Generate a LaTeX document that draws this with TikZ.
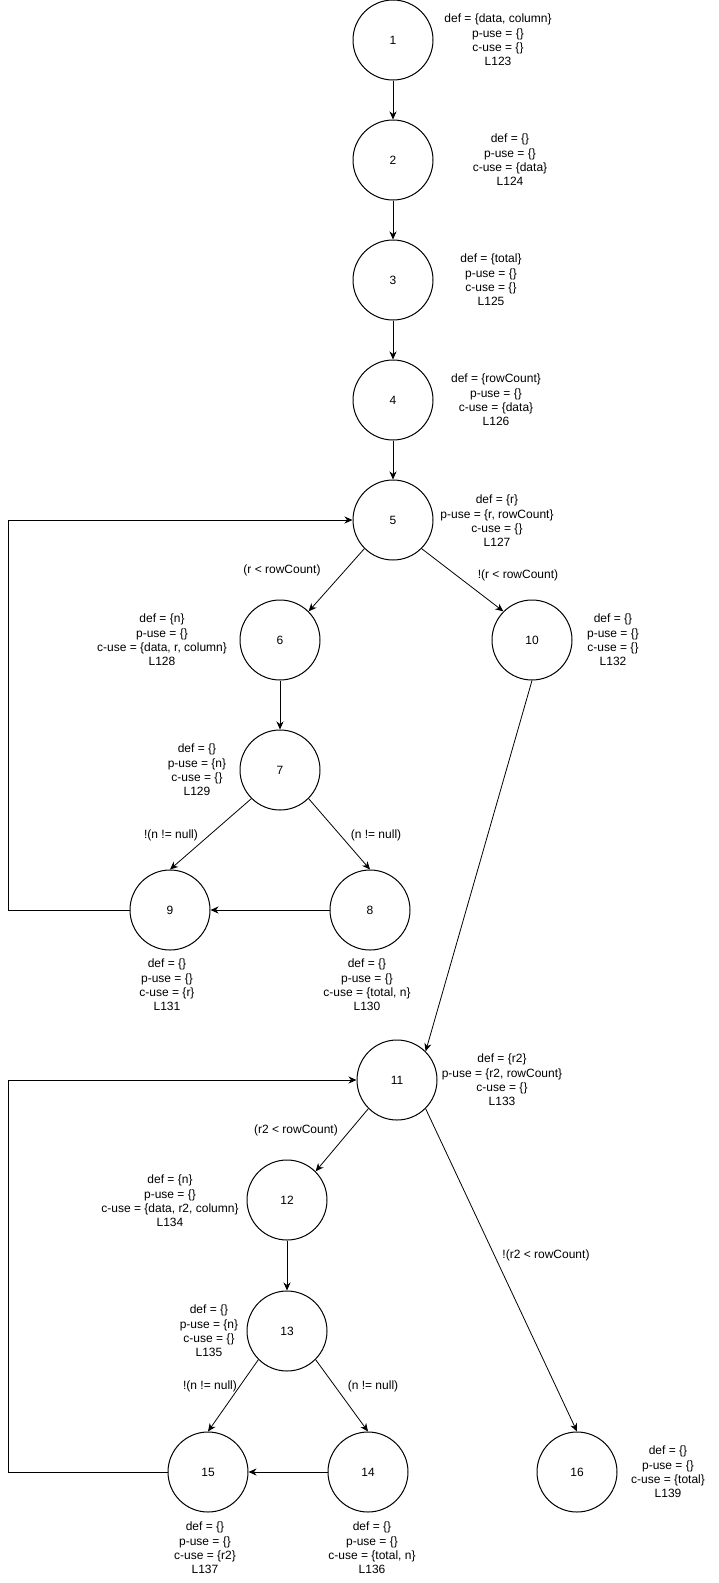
\documentclass[tikz,border=0pt]{standalone}
\usepackage{fontspec}
\setmainfont{Liberation Sans}
\usepackage{tikz}
\usetikzlibrary{arrows.meta}

\begin{document}
\begin{tikzpicture}[x=1pt, y=-1pt,
    block/.style={circle, draw, line width=1pt, minimum size=80pt, inner sep=0pt, font=\fontsize{12}{14.4}\selectfont},
    info/.style={align=center, inner sep=0pt, font=\fontsize{12}{14.4}\selectfont},
    flow/.style={-{Stealth[length=8pt, width=7pt, inset=2.5pt]}, line width=0.8pt}]
  \useasboundingbox (0,0) rectangle (718,1583);
  % First loop
  \node[block] (Node-1) at (393,40) {1};
  \node[block] (Node-2) at (393,160) {2};
  \node[block] (Node-3) at (393,280) {3};
  \node[block] (Node-4) at (393,400) {4};
  \node[block] (Node-5) at (393,520) {5};
  \node[block] (Node-6) at (280,640) {6};
  \node[block] (Node-10) at (532,640) {10};
  \node[block] (Node-7) at (280,770) {7};
  \node[block] (Node-9) at (170,910) {9};
  \node[block] (Node-8) at (370,910) {8};
  % Second loop
  \node[block] (Node-11) at (397,1080) {11};
  \node[block] (Node-12) at (287,1200) {12};
  \node[block] (Node-13) at (287,1331) {13};
  \node[block] (Node-15) at (208,1472) {15};
  \node[block] (Node-14) at (368,1472) {14};
  \node[block] (Node-16) at (577,1472) {16};
  \coordinate (Loop-1) at (8,0);  % Left return line
  % Def-use sets
  \node[info] (Info-1) at (498,40) {def = \{data, column\}\\p-use = \{\}\\c-use = \{\}\\L123};
  \node[info] (Info-2) at (510,160) {def = \{\}\\p-use = \{\}\\c-use = \{data\}\\L124};
  \node[info] (Info-3) at (491,280) {def = \{total\}\\p-use = \{\}\\c-use = \{\}\\L125};
  \node[info] (Info-4) at (496,400) {def = \{rowCount\}\\p-use = \{\}\\c-use = \{data\}\\L126};
  \node[info] (Info-5) at (497,521) {def = \{r\}\\p-use = \{r, rowCount\}\\c-use = \{\}\\L127};
  \node[info] (Info-6) at (162,640) {def = \{n\}\\p-use = \{\}\\c-use = \{data, r, column\}\\L128};
  \node[info] (Info-10) at (613,640) {def = \{\}\\p-use = \{\}\\c-use = \{\}\\L132};
  \node[info] (Info-7) at (197,770) {def = \{\}\\p-use = \{n\}\\c-use = \{\}\\L129};
  \node[info] (Info-9) at (167,985) {def = \{\}\\p-use = \{\}\\c-use = \{r\}\\L131};
  \node[info] (Info-8) at (367,985) {def = \{\}\\p-use = \{\}\\c-use = \{total, n\}\\L130};
  \node[info] (Info-11) at (502,1080) {def = \{r2\}\\p-use = \{r2, rowCount\}\\c-use = \{\}\\L133};
  \node[info] (Info-12) at (170,1201) {def = \{n\}\\p-use = \{\}\\c-use = \{data, r2, column\}\\L134};
  \node[info] (Info-13) at (209,1331) {def = \{\}\\p-use = \{n\}\\c-use = \{\}\\L135};
  \node[info] (Info-15) at (205,1548) {def = \{\}\\p-use = \{\}\\c-use = \{r2\}\\L137};
  \node[info] (Info-14) at (372,1548) {def = \{\}\\p-use = \{\}\\c-use = \{total, n\}\\L136};
  \node[info] (Info-16) at (668,1472) {def = \{\}\\p-use = \{\}\\c-use = \{total\}\\L139};
  % Branch conditions
  \node[info] (Cond-5a) at (282,570) {(r < rowCount)};
  \node[info] (Cond-5b) at (518,575) {!(r < rowCount)};
  \node[info] (Cond-7a) at (171,835) {!(n != null)};
  \node[info] (Cond-7b) at (376,835) {(n != null)};
  \node[info] (Cond-11a) at (296,1130) {(r2 < rowCount)};
  \node[info] (Cond-11b) at (546,1255) {!(r2 < rowCount)};
  \node[info] (Cond-13a) at (210,1386) {!(n != null)};
  \node[info] (Cond-13b) at (373,1386) {(n != null)};
  % Edges
  \draw[flow] (Node-1) -- (Node-2);
  \draw[flow] (Node-2) -- (Node-3);
  \draw[flow] (Node-3) -- (Node-4);
  \draw[flow] (Node-4) -- (Node-5);
  \draw[flow] (Node-5.south west) -- (Node-6.north east);
  \draw[flow] (Node-5.south east) -- (Node-10.north west);
  \draw[flow] (Node-6) -- (Node-7);
  \draw[flow] (Node-7.south west) -- (Node-9.north);
  \draw[flow] (Node-7.south east) -- (Node-8.north);
  \draw[flow] (Node-8) -- (Node-9);
  \draw[flow] (Node-9.west) -- (Node-9.west -| Loop-1) |- (Node-5.west);  % Back to 5
  \draw[flow] (Node-10.south) -- (Node-11.north east);
  \draw[flow] (Node-11.south west) -- (Node-12.north east);
  \draw[flow] (Node-11.south east) -- (Node-16.north);
  \draw[flow] (Node-12) -- (Node-13);
  \draw[flow] (Node-13.south west) -- (Node-15.north);
  \draw[flow] (Node-13.south east) -- (Node-14.north);
  \draw[flow] (Node-14) -- (Node-15);
  \draw[flow] (Node-15.west) -- (Node-15.west -| Loop-1) |- (Node-11.west);  % Back to 11
\end{tikzpicture}
\end{document}
